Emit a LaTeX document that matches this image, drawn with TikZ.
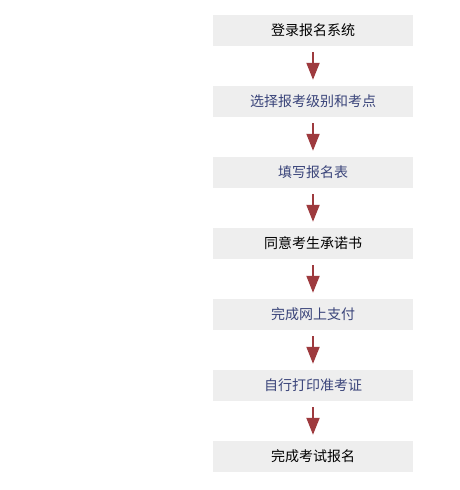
\documentclass[tikz,border=0pt]{standalone}
\usepackage{fontspec}
\newfontfamily\cjk{Noto Sans CJK SC}
\usetikzlibrary{arrows.meta}
\definecolor{boxgray}{HTML}{EEEEEE}
\definecolor{arrred}{HTML}{9E3A3E}
\definecolor{txtblue}{HTML}{3A447A}
\tikzset{
  stepbox/.style={fill=boxgray, draw=none, minimum width=200pt, minimum height=31pt, inner sep=0pt, font=\cjk\fontsize{14}{16}\selectfont},
  flowarrow/.style={draw=arrred, line width=2pt, -{Triangle[width=13pt,length=17pt]}, shorten <=6pt, shorten >=6pt}
}
\begin{document}
\begin{tikzpicture}[x=1pt,y=1pt]
\useasboundingbox (0,0) rectangle (460,-490);
\node[stepbox, text=black] (s1) at (313,-30.5) {登录报名系统};
\node[stepbox, text=txtblue] (s2) at (313,-101.5) {选择报考级别和考点};
\node[stepbox, text=txtblue] (s3) at (313,-172.5) {填写报名表};
\node[stepbox, text=black] (s4) at (313,-243.5) {同意考生承诺书};
\node[stepbox, text=txtblue] (s5) at (313,-314.5) {完成网上支付};
\node[stepbox, text=txtblue] (s6) at (313,-385.5) {自行打印准考证};
\node[stepbox, text=black] (s7) at (313,-456.5) {完成考试报名};
\foreach \a/\b in {s1/s2,s2/s3,s3/s4,s4/s5,s5/s6,s6/s7}
  \draw[flowarrow] (\a.south) -- (\b.north);
\end{tikzpicture}
\end{document}
